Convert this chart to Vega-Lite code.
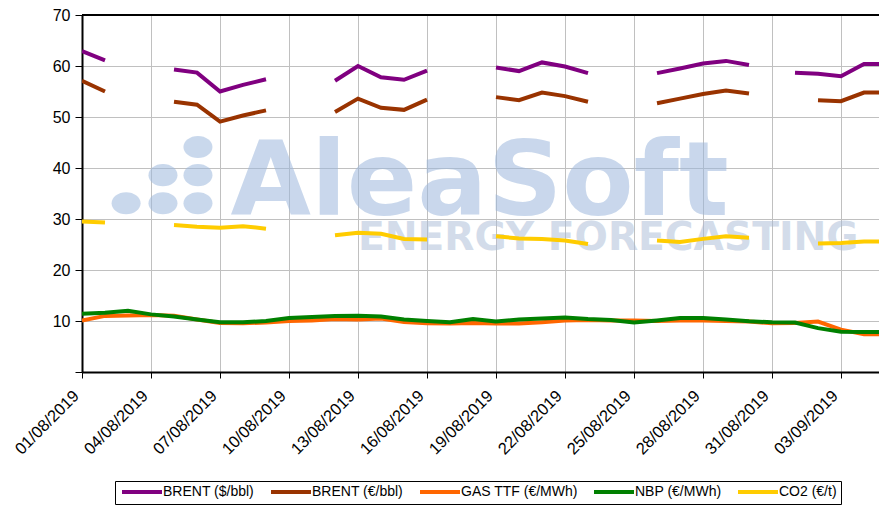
{
  "$schema": "https://vega.github.io/schema/vega-lite/v6.json",
  "width": 797,
  "height": 357,
  "autosize": {"type": "none"},
  "padding": {"left": 82, "top": 15, "right": 0, "bottom": 133},
  "background": "white",
  "config": {"view": {"stroke": null}, "font": "Liberation Sans"},
  "data": {"values": [
    {"date": "2019-08-01", "bu": 62.9, "be": 57.1, "ttf": 10.1, "nbp": 11.4, "co2": 29.5},
    {"date": "2019-08-02", "bu": 61.1, "be": 55.0, "ttf": 11.0, "nbp": 11.6, "co2": 29.3},
    {"date": "2019-08-03", "bu": null, "be": null, "ttf": 11.1, "nbp": 12.0, "co2": null},
    {"date": "2019-08-04", "bu": null, "be": null, "ttf": 11.2, "nbp": 11.3, "co2": null},
    {"date": "2019-08-05", "bu": 59.3, "be": 53.0, "ttf": 11.05, "nbp": 10.9, "co2": 28.8},
    {"date": "2019-08-06", "bu": 58.7, "be": 52.4, "ttf": 10.3, "nbp": 10.3, "co2": 28.5},
    {"date": "2019-08-07", "bu": 55.0, "be": 49.1, "ttf": 9.6, "nbp": 9.75, "co2": 28.3},
    {"date": "2019-08-08", "bu": 56.3, "be": 50.3, "ttf": 9.55, "nbp": 9.75, "co2": 28.6},
    {"date": "2019-08-09", "bu": 57.4, "be": 51.3, "ttf": 9.7, "nbp": 10.0, "co2": 28.1},
    {"date": "2019-08-10", "bu": null, "be": null, "ttf": 10.0, "nbp": 10.6, "co2": null},
    {"date": "2019-08-11", "bu": null, "be": null, "ttf": 10.1, "nbp": 10.8, "co2": null},
    {"date": "2019-08-12", "bu": 57.1, "be": 51.0, "ttf": 10.4, "nbp": 11.0, "co2": 26.8},
    {"date": "2019-08-13", "bu": 60.0, "be": 53.6, "ttf": 10.3, "nbp": 11.05, "co2": 27.3},
    {"date": "2019-08-14", "bu": 57.8, "be": 51.8, "ttf": 10.5, "nbp": 10.9, "co2": 27.1},
    {"date": "2019-08-15", "bu": 57.3, "be": 51.4, "ttf": 9.8, "nbp": 10.3, "co2": 26.1},
    {"date": "2019-08-16", "bu": 59.1, "be": 53.4, "ttf": 9.55, "nbp": 10.0, "co2": 26.0},
    {"date": "2019-08-17", "bu": null, "be": null, "ttf": 9.5, "nbp": 9.75, "co2": null},
    {"date": "2019-08-18", "bu": null, "be": null, "ttf": 9.6, "nbp": 10.4, "co2": null},
    {"date": "2019-08-19", "bu": 59.7, "be": 53.9, "ttf": 9.5, "nbp": 9.9, "co2": 26.6},
    {"date": "2019-08-20", "bu": 59.0, "be": 53.3, "ttf": 9.5, "nbp": 10.3, "co2": 26.2},
    {"date": "2019-08-21", "bu": 60.7, "be": 54.8, "ttf": 9.75, "nbp": 10.5, "co2": 26.1},
    {"date": "2019-08-22", "bu": 59.9, "be": 54.1, "ttf": 10.1, "nbp": 10.7, "co2": 25.8},
    {"date": "2019-08-23", "bu": 58.6, "be": 53.0, "ttf": 10.2, "nbp": 10.4, "co2": 25.1},
    {"date": "2019-08-24", "bu": null, "be": null, "ttf": 10.1, "nbp": 10.2, "co2": null},
    {"date": "2019-08-25", "bu": null, "be": null, "ttf": 10.1, "nbp": 9.7, "co2": null},
    {"date": "2019-08-26", "bu": 58.6, "be": 52.7, "ttf": 10.0, "nbp": 10.1, "co2": 25.8},
    {"date": "2019-08-27", "bu": 59.5, "be": 53.6, "ttf": 10.1, "nbp": 10.6, "co2": 25.5},
    {"date": "2019-08-28", "bu": 60.5, "be": 54.5, "ttf": 10.1, "nbp": 10.6, "co2": 26.1},
    {"date": "2019-08-29", "bu": 61.0, "be": 55.2, "ttf": 10.0, "nbp": 10.3, "co2": 26.6},
    {"date": "2019-08-30", "bu": 60.2, "be": 54.6, "ttf": 9.9, "nbp": 9.95, "co2": 26.3},
    {"date": "2019-08-31", "bu": null, "be": null, "ttf": 9.55, "nbp": 9.75, "co2": null},
    {"date": "2019-09-01", "bu": 58.7, "be": null, "ttf": 9.6, "nbp": 9.7, "co2": null},
    {"date": "2019-09-02", "bu": 58.5, "be": 53.3, "ttf": 9.9, "nbp": 8.6, "co2": 25.2},
    {"date": "2019-09-03", "bu": 58.0, "be": 53.1, "ttf": 8.3, "nbp": 7.9, "co2": 25.3},
    {"date": "2019-09-04", "bu": 60.4, "be": 54.8, "ttf": 7.4, "nbp": 7.85, "co2": 25.6},
    {"date": "2019-09-05", "bu": 60.4, "be": 54.8, "ttf": 7.4, "nbp": 7.85, "co2": 25.6}
  ]},
  "layer": [
    {
      "data": {"values": [{}]},
      "mark": {"type": "text", "text": "AleaSoft", "font": "DejaVu Sans", "fontWeight": "bold", "fontSize": 104, "align": "left", "baseline": "alphabetic", "color": "#9db8dd", "opacity": 0.55},
      "encoding": {
        "x": {"datum": {"year": 2019, "month": 8, "date": 7, "hours": 11, "utc": true}, "type": "temporal"},
        "y": {"datum": 30.8, "type": "quantitative"}
      }
    },
    {
      "data": {"values": [{}]},
      "mark": {"type": "text", "text": "ENERGY FORECASTING", "font": "DejaVu Sans", "fontWeight": "bold", "fontSize": 39.2, "align": "left", "baseline": "alphabetic", "color": "#a9bbd6", "opacity": 0.5},
      "encoding": {
        "x": {"datum": {"year": 2019, "month": 8, "date": 13, "hours": 0, "utc": true}, "type": "temporal"},
        "y": {"datum": 23.9, "type": "quantitative"}
      }
    },
    {
      "data": {"values": [{}]},
      "mark": {"type": "point", "filled": true, "shape": "M-1,0A1,0.76,0,1,0,1,0A1,0.76,0,1,0,-1,0Z", "size": 841, "color": "#9db8dd", "opacity": 0.55},
      "encoding": {
        "x": {"datum": {"year": 2019, "month": 8, "date": 6, "hours": 1, "utc": true}, "type": "temporal"},
        "y": {"datum": 44.1, "type": "quantitative"}
      }
    },
    {
      "data": {"values": [{}]},
      "mark": {"type": "point", "filled": true, "shape": "M-1,0A1,0.76,0,1,0,1,0A1,0.76,0,1,0,-1,0Z", "size": 841, "color": "#9db8dd", "opacity": 0.55},
      "encoding": {
        "x": {"datum": {"year": 2019, "month": 8, "date": 6, "hours": 1, "utc": true}, "type": "temporal"},
        "y": {"datum": 38.6, "type": "quantitative"}
      }
    },
    {
      "data": {"values": [{}]},
      "mark": {"type": "point", "filled": true, "shape": "M-1,0A1,0.76,0,1,0,1,0A1,0.76,0,1,0,-1,0Z", "size": 841, "color": "#9db8dd", "opacity": 0.55},
      "encoding": {
        "x": {"datum": {"year": 2019, "month": 8, "date": 4, "hours": 12, "minutes": 30, "utc": true}, "type": "temporal"},
        "y": {"datum": 38.6, "type": "quantitative"}
      }
    },
    {
      "data": {"values": [{}]},
      "mark": {"type": "point", "filled": true, "shape": "M-1,0A1,0.76,0,1,0,1,0A1,0.76,0,1,0,-1,0Z", "size": 841, "color": "#9db8dd", "opacity": 0.55},
      "encoding": {
        "x": {"datum": {"year": 2019, "month": 8, "date": 6, "hours": 1, "utc": true}, "type": "temporal"},
        "y": {"datum": 33.1, "type": "quantitative"}
      }
    },
    {
      "data": {"values": [{}]},
      "mark": {"type": "point", "filled": true, "shape": "M-1,0A1,0.76,0,1,0,1,0A1,0.76,0,1,0,-1,0Z", "size": 841, "color": "#9db8dd", "opacity": 0.55},
      "encoding": {
        "x": {"datum": {"year": 2019, "month": 8, "date": 4, "hours": 12, "minutes": 30, "utc": true}, "type": "temporal"},
        "y": {"datum": 33.1, "type": "quantitative"}
      }
    },
    {
      "data": {"values": [{}]},
      "mark": {"type": "point", "filled": true, "shape": "M-1,0A1,0.76,0,1,0,1,0A1,0.76,0,1,0,-1,0Z", "size": 841, "color": "#9db8dd", "opacity": 0.55},
      "encoding": {
        "x": {"datum": {"year": 2019, "month": 8, "date": 2, "hours": 22, "utc": true}, "type": "temporal"},
        "y": {"datum": 33.1, "type": "quantitative"}
      }
    },
    {
      "transform": [{"fold": ["bu", "be", "ttf", "nbp", "co2"], "as": ["series", "value"]}],
      "mark": {"type": "line", "strokeWidth": 4, "clip": true, "invalid": "break-paths-show-domains"},
      "encoding": {
        "x": {
          "field": "date", "type": "temporal",
          "scale": {"type": "utc", "domain": [{"year": 2019, "month": 8, "date": 1, "utc": true}, {"year": 2019, "month": 9, "date": 4, "hours": 15, "minutes": 39, "utc": true}]},
          "axis": {
            "values": [
              {"year": 2019, "month": 8, "date": 1, "utc": true},
              {"year": 2019, "month": 8, "date": 4, "utc": true},
              {"year": 2019, "month": 8, "date": 7, "utc": true},
              {"year": 2019, "month": 8, "date": 10, "utc": true},
              {"year": 2019, "month": 8, "date": 13, "utc": true},
              {"year": 2019, "month": 8, "date": 16, "utc": true},
              {"year": 2019, "month": 8, "date": 19, "utc": true},
              {"year": 2019, "month": 8, "date": 22, "utc": true},
              {"year": 2019, "month": 8, "date": 25, "utc": true},
              {"year": 2019, "month": 8, "date": 28, "utc": true},
              {"year": 2019, "month": 8, "date": 31, "utc": true},
              {"year": 2019, "month": 9, "date": 3, "utc": true}
            ],
            "format": "%d/%m/%Y",
            "title": null,
            "labelAngle": -45, "labelAlign": "right", "labelBaseline": "middle",
            "labelFontSize": 16.5, "labelFont": "Liberation Sans", "labelColor": "black",
            "labelPadding": 15, "labelOffset": -6, "labelOverlap": false, "labelFlush": false, "labelBound": false,
            "tickSize": 6, "tickColor": "black", "tickWidth": 1,
            "domainColor": "black", "domainWidth": 2,
            "grid": true, "gridColor": "#c0c0c0", "gridWidth": 1
          }
        },
        "y": {
          "field": "value", "type": "quantitative",
          "scale": {"domain": [0, 70], "nice": false, "zero": true},
          "axis": {
            "values": [0, 10, 20, 30, 40, 50, 60, 70],
            "labelExpr": "datum.value == 0 ? '' : datum.label",
            "title": null,
            "labelFontSize": 16, "labelFont": "Liberation Sans", "labelColor": "black",
            "labelPadding": 5, "tickSize": 7, "tickColor": "black", "tickWidth": 1,
            "domainColor": "black", "domainWidth": 2,
            "grid": true, "gridColor": "#c0c0c0", "gridWidth": 1
          }
        },
        "color": {
          "field": "series", "type": "nominal",
          "scale": {"domain": ["bu", "be", "ttf", "nbp", "co2"], "range": ["#800080", "#993300", "#ff6600", "#008000", "#ffcc00"]},
          "legend": {
            "orient": "none", "legendX": 33, "legendY": 466, "direction": "horizontal",
            "title": null, "symbolType": "M-1,0H9", "symbolStrokeWidth": 4, "symbolSize": 64,
            "labelFontSize": 14, "labelFont": "Liberation Sans", "labelColor": "black",
            "strokeColor": "black", "padding": 4, "columnPadding": 8, "labelOffset": 30,
            "labelExpr": "datum.label == 'bu' ? 'BRENT ($/bbl)' : datum.label == 'be' ? 'BRENT (€/bbl)' : datum.label == 'ttf' ? 'GAS TTF (€/MWh)' : datum.label == 'nbp' ? 'NBP (€/MWh)' : 'CO2 (€/t)'"
          }
        }
      }
    },
    {
      "data": {"values": [{}]},
      "mark": {"type": "rule", "color": "black", "strokeWidth": 2},
      "encoding": {"y": {"datum": 70, "type": "quantitative"}}
    }
  ]
}
